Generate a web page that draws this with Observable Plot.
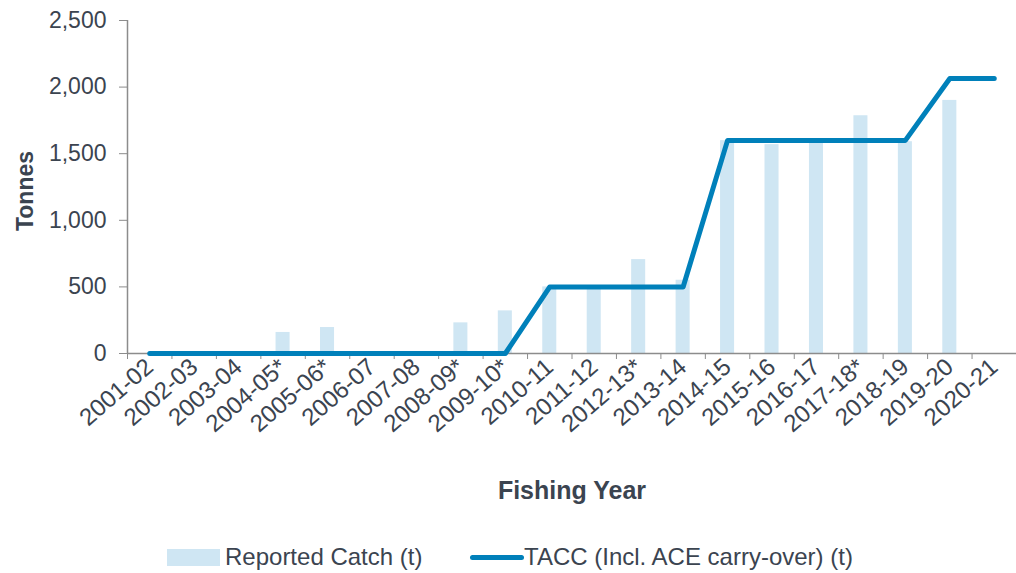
<!DOCTYPE html>
<html>
<head>
<meta charset="utf-8">
<script src="https://cdn.jsdelivr.net/npm/d3@7"></script>
<script src="https://cdn.jsdelivr.net/npm/@observablehq/plot@0.6"></script>
<style>
  body { margin: 0; background: #fff; font-family: "Liberation Sans", Arial, sans-serif; }
  #wrap { position: relative; width: 1016px; height: 573px; }
  #legend { position: absolute; left: 0; top: 530px; width: 1016px; height: 43px; color: #3b4450; font-size: 24px; }
  .sw { position: absolute; }
  .lt { position: absolute; white-space: nowrap; line-height: 28px; }
</style>
</head>
<body>
<div id="wrap">
  <div id="chart"></div>
  <div id="legend">
    <div class="sw" style="left:167px; top:19px; width:53px; height:17px; background:#cfe6f3;"></div>
    <div class="lt" style="left:225px; top:13px;">Reported Catch (t)</div>
    <div class="sw" style="left:470px; top:25px; width:54px; height:5px; border-radius:3px; background:#0080ba;"></div>
    <div class="lt" style="left:524px; top:13px;">TACC (Incl. ACE carry-over) (t)</div>
  </div>
</div>
<script>
const categories = ["2001-02","2002-03","2003-04","2004-05*","2005-06*","2006-07","2007-08","2008-09*","2009-10*","2010-11","2011-12","2012-13*","2013-14","2014-15","2015-16","2016-17","2017-18*","2018-19","2019-20","2020-21"];
const reportedCatch = [0,0,0,158,195,0,0,230,320,500,480,705,550,1598,1568,1598,1785,1590,1900,null];
const tacc = [0,0,0,0,0,0,0,0,0,500,500,500,500,1600,1600,1600,1600,1600,2065,2065];
const yTicks = [0,500,1000,1500,2000,2500];

const rows = categories.map((c, i) => ({cat: c, i, catch: reportedCatch[i], tacc: tacc[i]}));
const textColor = "#3b4450";
const axisColor = "#8c8c8c";

const chart = Plot.plot({
  width: 1016,
  height: 530,
  marginLeft: 127,
  marginRight: 0,
  marginTop: 20,
  marginBottom: 177,
  style: {fontFamily: "Liberation Sans, Arial, sans-serif", fontSize: "23px", color: textColor, background: "#fff"},
  x: {domain: [0, categories.length], axis: null},
  y: {domain: [0, 2500], axis: null},
  marks: [
    Plot.rectY(rows.filter(d => d.catch > 0), {x1: d => d.i + 0.5 - 0.158, x2: d => d.i + 0.5 + 0.158, y: "catch", fill: "#cfe6f3"}),
    Plot.ruleY([0], {stroke: axisColor, strokeWidth: 1.5}),
    Plot.ruleX([0], {stroke: axisColor, strokeWidth: 1.5}),
    Plot.axisY({ticks: yTicks, tickFormat: d3.format(","), tickSize: 8, tickPadding: 13, fontSize: 23, label: null, stroke: axisColor, fill: textColor}),
    Plot.axisX({ticks: d3.range(categories.length + 1), tickFormat: () => "", tickSize: 6, label: null, stroke: axisColor}),
    Plot.axisX({ticks: d3.range(categories.length).map(i => i + 0.5), tickFormat: v => categories[Math.floor(v)], tickRotate: -41, tickSize: 0, tickPadding: 10, fontSize: 24, label: null, fill: textColor}),
    Plot.line(rows, {x: d => d.i + 0.5, y: "tacc", stroke: "#0080ba", strokeWidth: 5, strokeLinecap: "round", strokeLinejoin: "round"}),
    Plot.text(["Tonnes"], {frameAnchor: "left", textAnchor: "middle", lineAnchor: "middle", dx: -102, dy: 4, rotate: -90, fontSize: 23, fontWeight: "bold", fill: textColor}),
    Plot.text(["Fishing Year"], {frameAnchor: "bottom", textAnchor: "middle", lineAnchor: "middle", dy: 137, fontSize: 25, fontWeight: "bold", fill: textColor})
  ]
});
document.getElementById("chart").appendChild(chart);
</script>
</body>
</html>
